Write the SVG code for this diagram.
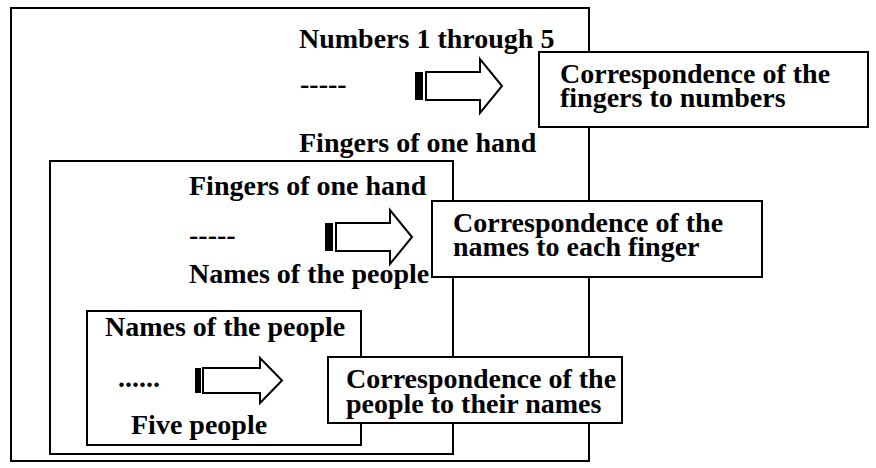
<svg xmlns="http://www.w3.org/2000/svg" width="876" height="468" viewBox="0 0 876 468">
  <style>
    .frame { fill: none; stroke: #000; stroke-width: 2; }
    .card { fill: #fff; stroke: #000; stroke-width: 2; }
    .lbl { font-family: "Liberation Serif", "Times New Roman", serif; font-weight: bold; font-size: 28px; fill: #000; }
    .arrow-body { fill: #fff; stroke: #000; stroke-width: 2; stroke-linejoin: miter; }
    .arrow-bar { fill: #000; }
  </style>
  <rect x="0" y="0" width="876" height="468" fill="#fff"/>

  <!-- nested frames -->
  <g id="frame-numbers">
    <rect class="frame" x="11" y="8" width="578" height="453"/>
    <text class="lbl" x="299" y="48">Numbers 1 through 5</text>
    <text class="lbl" x="300" y="93">-----</text>
    <text class="lbl" x="299" y="152">Fingers of one hand</text>
  </g>

  <g id="frame-fingers">
    <rect class="frame" x="50" y="161" width="403" height="293"/>
    <text class="lbl" x="189" y="195">Fingers of one hand</text>
    <text class="lbl" x="189" y="244">-----</text>
    <text class="lbl" x="189" y="283">Names of the people</text>
  </g>

  <g id="frame-names">
    <rect class="frame" x="87" y="311" width="274" height="134"/>
    <text class="lbl" x="105" y="336">Names of the people</text>
    <text class="lbl" x="118" y="387" font-size="22">......</text>
    <text class="lbl" x="131" y="434">Five people</text>
  </g>

  <!-- striped block arrows -->
  <g id="connectors">
    <g id="arrow-1">
      <rect class="arrow-bar" x="415" y="72" width="8" height="28"/>
      <path class="arrow-body" d="M426,72 H480 V59 L502,86 L480,113 V100 H426 Z"/>
    </g>
    <g id="arrow-2">
      <rect class="arrow-bar" x="325" y="223" width="8" height="28"/>
      <path class="arrow-body" d="M336,223 H390 V210 L412,237 L390,264 V251 H336 Z"/>
    </g>
    <g id="arrow-3">
      <rect class="arrow-bar" x="195" y="368" width="6" height="25"/>
      <path class="arrow-body" d="M203,368 H260 V358 L282,380.5 L260,403 V393 H203 Z"/>
    </g>
  </g>

  <!-- result cards -->
  <g id="card-numbers">
    <rect class="card" x="539" y="52" width="329" height="75"/>
    <text class="lbl" x="560" y="83">Correspondence of the</text>
    <text class="lbl" x="560" y="107">fingers to numbers</text>
  </g>

  <g id="card-fingers">
    <rect class="card" x="432" y="201" width="330" height="76"/>
    <text class="lbl" x="453" y="232">Correspondence of the</text>
    <text class="lbl" x="453" y="256">names to each finger</text>
  </g>

  <g id="card-people">
    <rect class="card" x="328" y="357" width="294" height="66"/>
    <text class="lbl" x="346" y="388">Correspondence of the</text>
    <text class="lbl" x="346" y="413">people to their names</text>
  </g>
</svg>
